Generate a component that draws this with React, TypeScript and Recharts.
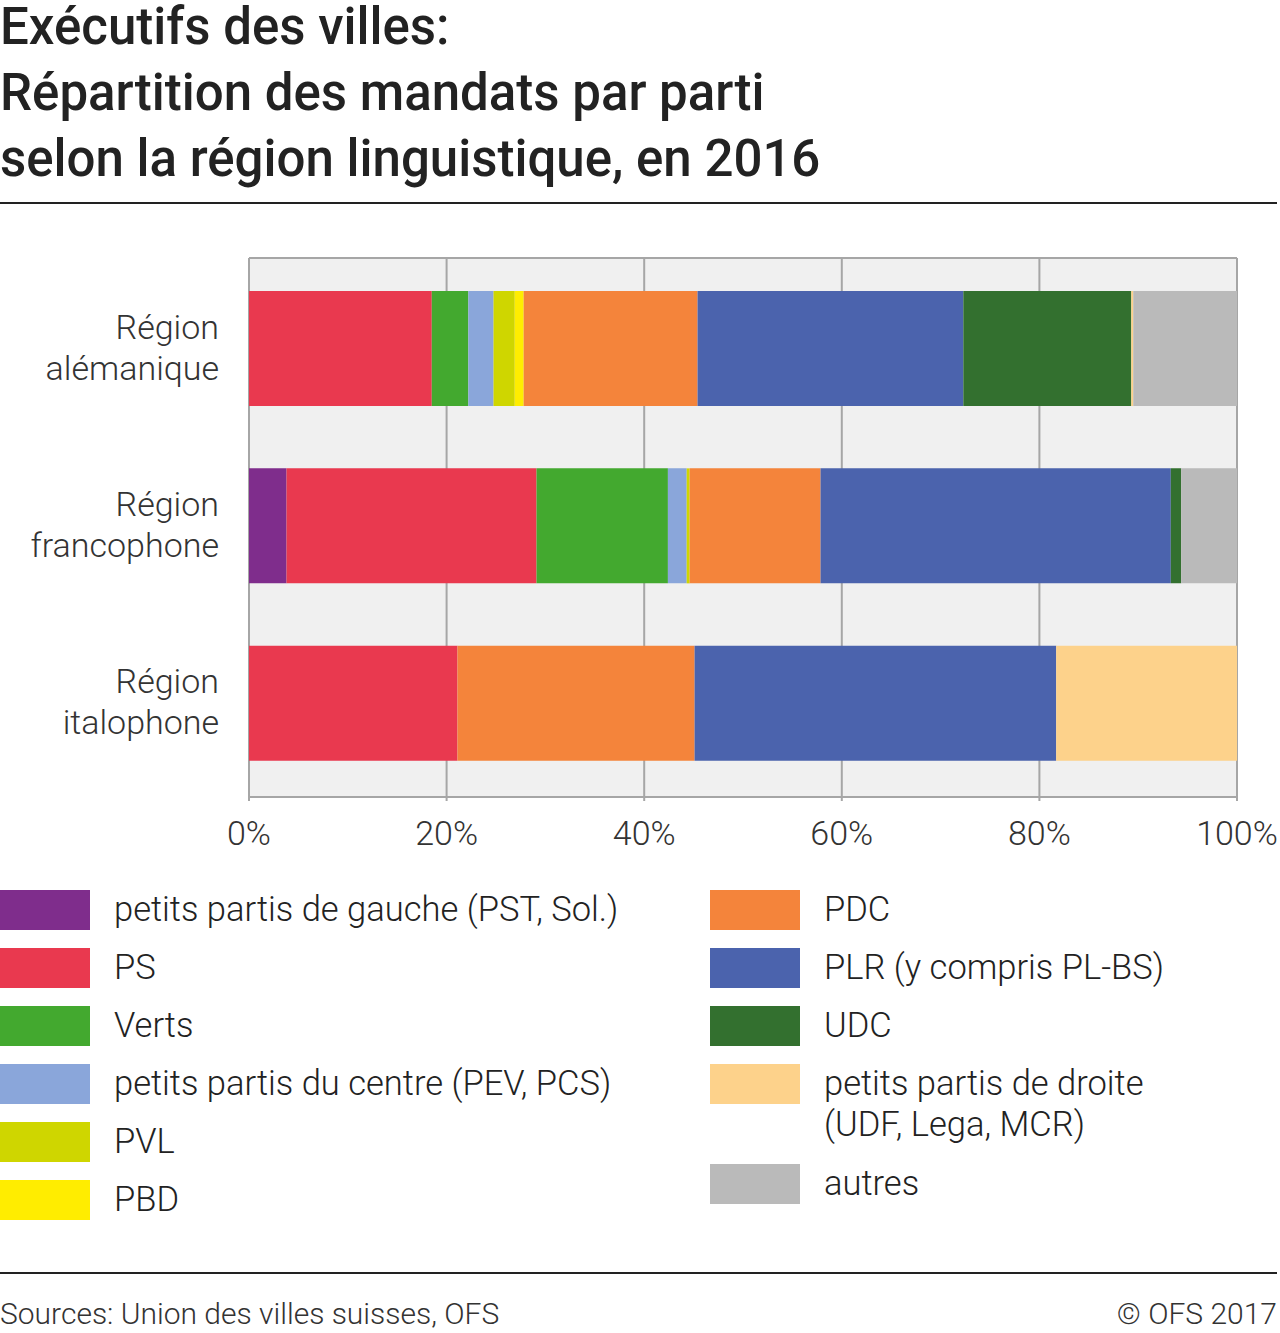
import { BarChart, Bar, XAxis, YAxis, CartesianGrid } from 'recharts'

const REGIONS = ['Région alémanique', 'Région francophone', 'Région italophone']
const REGION_LINES = [['Région', 'alémanique'], ['Région', 'francophone'], ['Région', 'italophone']]

const GAUCHE = [0, 3.8, 0]
const PS = [18.5, 25.3, 21.1]
const VERTS = [3.7, 13.3, 0]
const CENTRE = [2.55, 1.9, 0]
const PVL = [2.15, 0.3, 0]
const PBD = [0.9, 0, 0]
const PDC = [17.6, 13.25, 24.0]
const PLR = [26.9, 35.45, 36.6]
const UDC = [17.0, 1.05, 0]
const DROITE = [0.2, 0, 18.3]
const AUTRES = [10.5, 5.65, 0]

const X_TICKS = [0, 20, 40, 60, 80, 100]

const TITLE_LINES = [
  'Exécutifs des villes:',
  'Répartition des mandats par parti',
  'selon la région linguistique, en 2016',
]

const SERIES = [
  { key: 'gauche', label: 'petits partis de gauche (PST, Sol.)', color: '#7f2d8c', values: GAUCHE },
  { key: 'ps', label: 'PS', color: '#e9394f', values: PS },
  { key: 'verts', label: 'Verts', color: '#43a92f', values: VERTS },
  { key: 'centre', label: 'petits partis du centre (PEV, PCS)', color: '#8aa6da', values: CENTRE },
  { key: 'pvl', label: 'PVL', color: '#cfd600', values: PVL },
  { key: 'pbd', label: 'PBD', color: '#ffed00', values: PBD },
  { key: 'pdc', label: 'PDC', color: '#f4843b', values: PDC },
  { key: 'plr', label: 'PLR (y compris PL-BS)', color: '#4b63ad', values: PLR },
  { key: 'udc', label: 'UDC', color: '#33702f', values: UDC },
  { key: 'droite', label: 'petits partis de droite\n(UDF, Lega, MCR)', color: '#fdd28b', values: DROITE },
  { key: 'autres', label: 'autres', color: '#bababa', values: AUTRES },
]

const data = REGIONS.map((region, i) => {
  const row: Record<string, string | number> = { region }
  SERIES.forEach((s) => {
    row[s.key] = s.values[i]
  })
  return row
})

const FONT = 'Roboto, "Noto Sans", sans-serif'
const GRID = '#a6a6a6'

const RegionTick = ({ x, y, index }: { x?: number; y?: number; index?: number }) => {
  const lines = REGION_LINES[index ?? 0]
  const tx = (x ?? 0) - 22
  return (
    <text x={tx} y={y} textAnchor="end" fill="#333" fontSize={34} fontWeight={300} fontFamily={FONT}>
      <tspan x={tx} dy={-10}>{lines[0]}</tspan>
      <tspan x={tx} dy={41}>{lines[1]}</tspan>
    </text>
  )
}

const LegendItem = ({ label, color, x, y }: { label: string; color: string; x: number; y: number }) => (
  <div style={{ position: 'absolute', left: x, top: y }}>
    <div style={{ position: 'absolute', left: 0, top: 0, width: 90, height: 40, background: color }} />
    <div
      style={{
        position: 'absolute',
        left: 114,
        top: -1,
        whiteSpace: 'pre',
        fontSize: 34.5,
        lineHeight: '41px',
        fontWeight: 300,
        color: '#222',
      }}
    >
      {label}
    </div>
  </div>
)

export default function App() {
  const left = SERIES.slice(0, 6)
  const right = SERIES.slice(6)
  const rightTops = [890, 948, 1006, 1064, 1164]
  return (
    <div style={{ position: 'absolute', left: 0, top: 0, width: 1280, height: 1333, fontFamily: FONT, background: '#fff' }}>
      {TITLE_LINES.map((t, i) => (
        <div
          key={t}
          style={{ position: 'absolute', left: 0, top: 2 + i * 66, fontSize: 51, lineHeight: '50px', fontWeight: 500, color: '#222', whiteSpace: 'nowrap' }}
        >
          {t}
        </div>
      ))}
      <div style={{ position: 'absolute', left: 0, top: 202, width: 1277, height: 2, background: '#222' }} />

      <div style={{ position: 'absolute', left: 0, top: 230 }}>
        <BarChart
          width={1280}
          height={645}
          data={data}
          layout="vertical"
          margin={{ top: 28, right: 43, left: 0, bottom: 25 }}
          barCategoryGap="17.5%"
        >
          <CartesianGrid
            fill="#f0f0f0"
            stroke={GRID}
            strokeWidth={2}
            vertical
            horizontal
            horizontalCoordinatesGenerator={({ offset }: any) => [offset.top]}
          />
          <XAxis
            type="number"
            domain={[0, 100]}
            ticks={X_TICKS}
            tickFormatter={(v: number) => `${v}%`}
            axisLine={{ stroke: GRID, strokeWidth: 2 }}
            tickLine={{ stroke: GRID, strokeWidth: 2 }}
            tickSize={4}
            tickMargin={20}
            height={53}
            tick={{ fill: '#333', fontSize: 34, fontWeight: 300, fontFamily: FONT }}
          />
          <YAxis
            type="category"
            dataKey="region"
            width={249}
            axisLine={false}
            tickLine={false}
            padding={{ top: 2, bottom: 5 }}
            tick={<RegionTick />}
          />
          {SERIES.map((s) => (
            <Bar key={s.key} dataKey={s.key} stackId="a" fill={s.color} isAnimationActive={false} />
          ))}
        </BarChart>
      </div>

      {left.map((s, i) => (
        <LegendItem key={s.key} label={s.label} color={s.color} x={0} y={890 + i * 58} />
      ))}
      {right.map((s, i) => (
        <LegendItem key={s.key} label={s.label} color={s.color} x={710} y={rightTops[i]} />
      ))}

      <div style={{ position: 'absolute', left: 0, top: 1272, width: 1277, height: 2, background: '#222' }} />
      <div style={{ position: 'absolute', left: 0, top: 1296, fontSize: 30, fontWeight: 300, color: '#333' }}>
        Sources: Union des villes suisses, OFS
      </div>
      <div style={{ position: 'absolute', right: 3, top: 1296, fontSize: 30, fontWeight: 300, color: '#333' }}>
        © OFS 2017
      </div>
    </div>
  )
}
